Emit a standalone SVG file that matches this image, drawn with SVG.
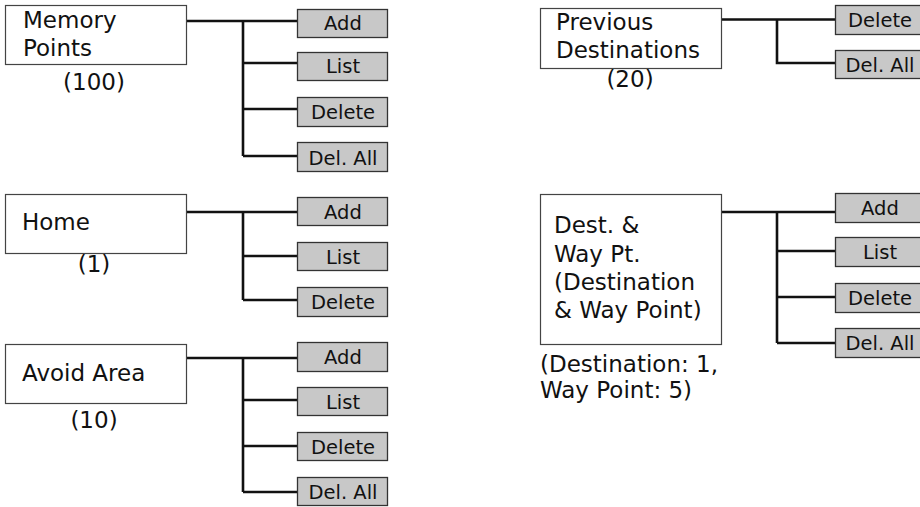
<svg xmlns="http://www.w3.org/2000/svg" width="920" height="507" viewBox="0 0 920 507">
<style>
.main{fill:#fff;stroke:#444;stroke-width:1.2}
.sub{fill:#c8c8c8;stroke:#333;stroke-width:1.3}
.t{font-family:"DejaVu Sans",sans-serif;font-size:23px;fill:#111}
.s{font-family:"DejaVu Sans",sans-serif;font-size:19.5px;fill:#111;text-anchor:middle}
.c{text-anchor:middle}
.conn{fill:none;stroke:#111;stroke-width:2.6}
</style>
<rect width="920" height="507" fill="#fff"/>
<g id="connectors" class="conn">
<path d="M186 21H298M243 21V156M243 63H298M243 109H298M243 156H298"/>
<path d="M186 212H298M243 212V300M243 256H298M243 300H298"/>
<path d="M186 358H298M243 358V492M243 400H298M243 446H298M243 492H298"/>
<path d="M722 19.5H835M777 19.5V63H835"/>
<path d="M722 212H835M777 212V343M777 251H835M777 297H835M777 343H835"/>
</g>
<g id="memory-points">
<rect class="main" x="5.5" y="5.5" width="181" height="59"/>
<text class="t" x="23" y="28">Memory</text>
<text class="t" x="23" y="56">Points</text>
<text class="t c" x="94" y="90">(100)</text>
</g>
<g id="mp-add"><rect class="sub" x="297.5" y="9.5" width="90" height="28"/><text class="s" x="343" y="29.5">Add</text></g>
<g id="mp-list"><rect class="sub" x="297.5" y="52.5" width="90" height="28"/><text class="s" x="343" y="73">List</text></g>
<g id="mp-delete"><rect class="sub" x="297.5" y="97.5" width="90" height="29"/><text class="s" x="343" y="118.5">Delete</text></g>
<g id="mp-delall"><rect class="sub" x="297.5" y="142.5" width="90" height="29"/><text class="s" x="343" y="164.5">Del. All</text></g>

<g id="home">
<rect class="main" x="5.5" y="194.5" width="181" height="59"/>
<text class="t" x="22" y="230">Home</text>
<text class="t c" x="94" y="272">(1)</text>
</g>
<g id="home-add"><rect class="sub" x="297.5" y="197.5" width="90" height="28"/><text class="s" x="343" y="218.5">Add</text></g>
<g id="home-list"><rect class="sub" x="297.5" y="242.5" width="90" height="28"/><text class="s" x="343" y="263.5">List</text></g>
<g id="home-delete"><rect class="sub" x="297.5" y="287.5" width="90" height="29"/><text class="s" x="343" y="308.5">Delete</text></g>

<g id="avoid-area">
<rect class="main" x="5.5" y="344.5" width="181" height="59"/>
<text class="t" x="22" y="381">Avoid Area</text>
<text class="t c" x="94" y="428">(10)</text>
</g>
<g id="aa-add"><rect class="sub" x="297.5" y="342.5" width="90" height="29"/><text class="s" x="343" y="363.5">Add</text></g>
<g id="aa-list"><rect class="sub" x="297.5" y="387.5" width="90" height="28"/><text class="s" x="343" y="408.5">List</text></g>
<g id="aa-delete"><rect class="sub" x="297.5" y="432.5" width="90" height="28"/><text class="s" x="343" y="453.5">Delete</text></g>
<g id="aa-delall"><rect class="sub" x="297.5" y="477.5" width="90" height="28"/><text class="s" x="343" y="499">Del. All</text></g>

<g id="previous-destinations">
<rect class="main" x="540.5" y="8.5" width="181" height="60"/>
<text class="t" x="556" y="30">Previous</text>
<text class="t" x="556" y="58">Destinations</text>
<text class="t c" x="630" y="87">(20)</text>
</g>
<g id="pd-delete"><rect class="sub" x="835.5" y="5.5" width="90" height="29"/><text class="s" x="880" y="27">Delete</text></g>
<g id="pd-delall"><rect class="sub" x="835.5" y="50.5" width="90" height="28"/><text class="s" x="880" y="71.5">Del. All</text></g>

<g id="dest-waypt">
<rect class="main" x="540.5" y="194.5" width="181" height="150"/>
<text class="t" x="554" y="233">Dest. &amp;</text>
<text class="t" x="554" y="262">Way Pt.</text>
<text class="t" x="554" y="290">(Destination</text>
<text class="t" x="554" y="318">&amp; Way Point)</text>
<text class="t" x="540" y="372">(Destination: 1,</text>
<text class="t" x="540" y="398">Way Point: 5)</text>
</g>
<g id="dw-add"><rect class="sub" x="835.5" y="193.5" width="90" height="29"/><text class="s" x="880" y="214.5">Add</text></g>
<g id="dw-list"><rect class="sub" x="835.5" y="237.5" width="90" height="29"/><text class="s" x="880" y="259">List</text></g>
<g id="dw-delete"><rect class="sub" x="835.5" y="283.5" width="90" height="29"/><text class="s" x="880" y="304.5">Delete</text></g>
<g id="dw-delall"><rect class="sub" x="835.5" y="328.5" width="90" height="29"/><text class="s" x="880" y="350">Del. All</text></g>
</svg>
